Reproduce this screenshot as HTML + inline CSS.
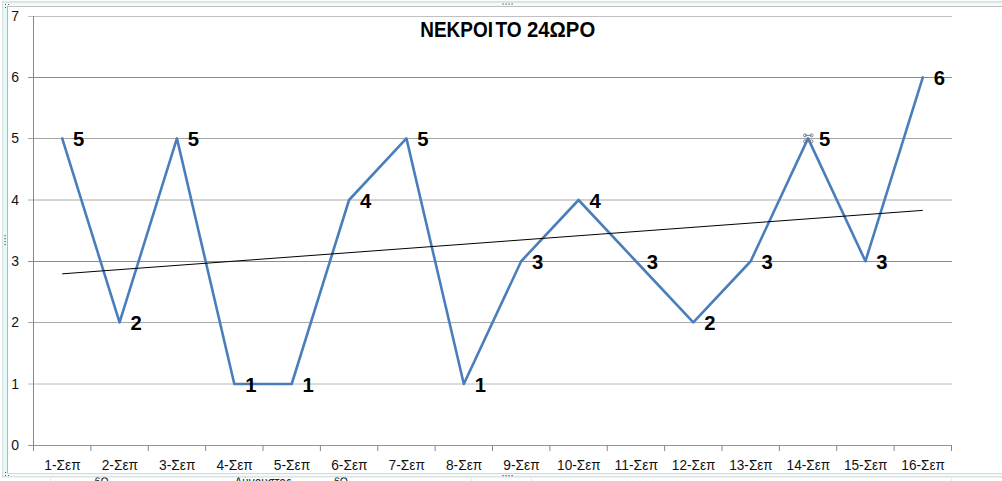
<!DOCTYPE html>
<html><head><meta charset="utf-8"><title>ΝΕΚΡΟΙ ΤΟ 24ΩΡΟ</title>
<style>
html,body{margin:0;padding:0;background:#fff;}
body{width:1002px;height:481px;overflow:hidden;position:relative;}
svg{position:absolute;left:0;top:0;display:block;}
text{font-family:"Liberation Sans","DejaVu Sans",sans-serif;}
</style></head><body>
<svg width="1002" height="481" viewBox="0 0 1002 481">
<rect x="0" y="0" width="1002" height="481" fill="#ffffff"/>

<g stroke="#e3e6ea" stroke-width="1"><line x1="50.5" y1="478" x2="50.5" y2="481"/><line x1="951.5" y1="478" x2="951.5" y2="481"/><line x1="471.5" y1="478" x2="471.5" y2="481"/><line x1="531.5" y1="478" x2="531.5" y2="481"/></g>
<g fill="#222" font-size="14"><text x="94.6" y="487.2" textLength="14" lengthAdjust="spacingAndGlyphs">6Θ</text><text x="234.5" y="487.2" textLength="57" lengthAdjust="spacingAndGlyphs">Αύγουστος</text><text x="334" y="487.2" textLength="14" lengthAdjust="spacingAndGlyphs">6Θ</text></g>
<rect x="2" y="0" width="1000" height="1" fill="#f5fafa"/>
<rect x="2" y="1" width="1000" height="2" fill="#dbe3e3"/>
<rect x="2" y="3" width="1000" height="3" fill="#f2fafa"/>
<rect x="7" y="6" width="995" height="1" fill="#bcc1c1"/>
<rect x="2" y="1" width="1" height="477" fill="#d6e0e0"/>
<rect x="3" y="3" width="4" height="473" fill="#e6f8f8"/>
<rect x="7" y="6" width="1" height="468" fill="#a9bdbd"/>
<rect x="7" y="473" width="995" height="1" fill="#d3d9d9"/>
<rect x="3" y="474" width="999" height="2" fill="#f3fafa"/>
<rect x="2" y="476" width="1000" height="1.5" fill="#dbe3e3"/>
<g fill="#4f5a5a"><rect x="5" y="4" width="1" height="1"/><rect x="8" y="4" width="1" height="1"/><rect x="5" y="7" width="1" height="1"/><rect x="5" y="472" width="1" height="1"/><rect x="5" y="475" width="1" height="1"/><rect x="8" y="475" width="1" height="1"/><rect x="502.5" y="3.5" width="1.2" height="1.2"/><rect x="502.5" y="475" width="1.2" height="1.2"/><rect x="4.5" y="235" width="1.2" height="1.2"/><rect x="505.5" y="3.5" width="1.2" height="1.2"/><rect x="505.5" y="475" width="1.2" height="1.2"/><rect x="4.5" y="238" width="1.2" height="1.2"/><rect x="508.5" y="3.5" width="1.2" height="1.2"/><rect x="508.5" y="475" width="1.2" height="1.2"/><rect x="4.5" y="241" width="1.2" height="1.2"/><rect x="511.5" y="3.5" width="1.2" height="1.2"/><rect x="511.5" y="475" width="1.2" height="1.2"/><rect x="4.5" y="244" width="1.2" height="1.2"/></g>
<g stroke-width="1"><line x1="28" y1="384.0" x2="952.0" y2="384.0" stroke="#bababa"/><line x1="28" y1="322.5" x2="952.0" y2="322.5" stroke="#a8a8a8"/><line x1="28" y1="261.5" x2="952.0" y2="261.5" stroke="#8c8c8c"/><line x1="28" y1="200.0" x2="952.0" y2="200.0" stroke="#a8a8a8"/><line x1="28" y1="138.5" x2="952.0" y2="138.5" stroke="#a4a4a4"/><line x1="28" y1="77.5" x2="952.0" y2="77.5" stroke="#8c8c8c"/><line x1="28" y1="16.5" x2="952.0" y2="16.5" stroke="#c0c0c0"/></g>
<g stroke="#868686" stroke-width="1"><line x1="33.5" y1="16" x2="33.5" y2="451"/><line x1="28" y1="445.5" x2="952.0" y2="445.5" stroke="#949494"/><line x1="33.50" y1="445.4" x2="33.50" y2="451"/><line x1="90.88" y1="445.4" x2="90.88" y2="451"/><line x1="148.25" y1="445.4" x2="148.25" y2="451"/><line x1="205.62" y1="445.4" x2="205.62" y2="451"/><line x1="263.00" y1="445.4" x2="263.00" y2="451"/><line x1="320.38" y1="445.4" x2="320.38" y2="451"/><line x1="377.75" y1="445.4" x2="377.75" y2="451"/><line x1="435.12" y1="445.4" x2="435.12" y2="451"/><line x1="492.50" y1="445.4" x2="492.50" y2="451"/><line x1="549.88" y1="445.4" x2="549.88" y2="451"/><line x1="607.25" y1="445.4" x2="607.25" y2="451"/><line x1="664.62" y1="445.4" x2="664.62" y2="451"/><line x1="722.00" y1="445.4" x2="722.00" y2="451"/><line x1="779.38" y1="445.4" x2="779.38" y2="451"/><line x1="836.75" y1="445.4" x2="836.75" y2="451"/><line x1="894.12" y1="445.4" x2="894.12" y2="451"/><line x1="951.50" y1="445.4" x2="951.50" y2="451"/></g>
<polyline points="62.19,138.40 119.56,322.40 176.94,138.40 234.31,384.00 291.69,384.00 349.06,200.00 406.44,138.40 463.81,384.00 521.19,261.25 578.56,200.00 635.94,261.25 693.31,322.40 750.69,261.25 808.06,138.40 865.44,261.25 922.81,77.40" fill="none" stroke="#4a7ebb" stroke-width="2.6" stroke-linejoin="round" stroke-linecap="round"/>
<line x1="62.19" y1="273.84" x2="922.81" y2="210.36" stroke="#000" stroke-width="1"/>
<g fill="none" stroke="#6a7480" stroke-width="0.9"><line x1="805.0625" y1="135.4" x2="811.5625" y2="135.4"/><circle cx="805.0625" cy="135.4" r="1.5"/><circle cx="811.5625" cy="135.4" r="1.5"/><circle cx="805.0625" cy="141.4" r="1.5"/><circle cx="811.5625" cy="141.4" r="1.5"/></g>
<g fill="#111" font-size="14"><text x="11.2" y="450.0">0</text><text x="11.2" y="388.6">1</text><text x="11.2" y="327.0">2</text><text x="11.2" y="265.9">3</text><text x="11.2" y="204.6">4</text><text x="11.2" y="143.0">5</text><text x="11.2" y="82.0">6</text><text x="11.2" y="21.0">7</text></g>
<g fill="#111" font-size="14"><text x="44.29" y="470" textLength="36.4" lengthAdjust="spacingAndGlyphs">1-Σεπ</text><text x="101.66" y="470" textLength="36.4" lengthAdjust="spacingAndGlyphs">2-Σεπ</text><text x="159.04" y="470" textLength="36.4" lengthAdjust="spacingAndGlyphs">3-Σεπ</text><text x="216.41" y="470" textLength="36.4" lengthAdjust="spacingAndGlyphs">4-Σεπ</text><text x="273.79" y="470" textLength="36.4" lengthAdjust="spacingAndGlyphs">5-Σεπ</text><text x="331.16" y="470" textLength="36.4" lengthAdjust="spacingAndGlyphs">6-Σεπ</text><text x="388.54" y="470" textLength="36.4" lengthAdjust="spacingAndGlyphs">7-Σεπ</text><text x="445.91" y="470" textLength="36.4" lengthAdjust="spacingAndGlyphs">8-Σεπ</text><text x="503.29" y="470" textLength="36.4" lengthAdjust="spacingAndGlyphs">9-Σεπ</text><text x="557.11" y="470" textLength="43.5" lengthAdjust="spacingAndGlyphs">10-Σεπ</text><text x="614.49" y="470" textLength="43.5" lengthAdjust="spacingAndGlyphs">11-Σεπ</text><text x="671.86" y="470" textLength="43.5" lengthAdjust="spacingAndGlyphs">12-Σεπ</text><text x="729.24" y="470" textLength="43.5" lengthAdjust="spacingAndGlyphs">13-Σεπ</text><text x="786.61" y="470" textLength="43.5" lengthAdjust="spacingAndGlyphs">14-Σεπ</text><text x="843.99" y="470" textLength="43.5" lengthAdjust="spacingAndGlyphs">15-Σεπ</text><text x="901.36" y="470" textLength="43.5" lengthAdjust="spacingAndGlyphs">16-Σεπ</text></g>
<g fill="#000" font-size="20.3" font-weight="bold"><text x="73.09" y="146.30">5</text><text x="130.46" y="330.30">2</text><text x="187.84" y="146.30">5</text><text x="245.21" y="391.90">1</text><text x="302.59" y="391.90">1</text><text x="359.96" y="207.90">4</text><text x="417.34" y="146.30">5</text><text x="474.71" y="391.90">1</text><text x="532.09" y="269.15">3</text><text x="589.46" y="207.90">4</text><text x="646.84" y="269.15">3</text><text x="704.21" y="330.30">2</text><text x="761.59" y="269.15">3</text><text x="818.96" y="146.30">5</text><text x="876.34" y="269.15">3</text><text x="933.71" y="85.30">6</text></g>
<g fill="#000" font-size="21.6" font-weight="bold"><text x="420.3" y="37.3" textLength="72.6" lengthAdjust="spacingAndGlyphs">ΝΕΚΡΟΙ</text><text x="495.4" y="37.3" textLength="26.2" lengthAdjust="spacingAndGlyphs">ΤΟ</text><text x="527" y="37.3" textLength="68.2" lengthAdjust="spacingAndGlyphs">24ΩΡΟ</text></g>
</svg></body></html>
